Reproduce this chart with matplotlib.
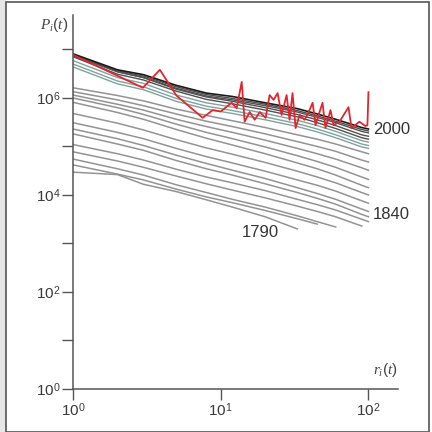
import numpy as np
import matplotlib
matplotlib.use("Agg")
import matplotlib.pyplot as plt
from matplotlib.patches import Rectangle

plt.rcParams['font.family'] = ['Liberation Sans', 'DejaVu Sans']
plt.rcParams['mathtext.fontset'] = 'custom'
plt.rcParams['mathtext.rm'] = 'Liberation Sans'
plt.rcParams['mathtext.it'] = 'Liberation Serif:italic'

# ---------------- data ----------------
ranks = [1, 2, 3, 5, 8, 12, 20, 33, 45, 60, 90, 100]
nan = float('nan')

# log10 of city population at each rank, per census year
logpop_1790 = [4.47, 4.42, 4.22, 4.07, 3.90, 3.75, 3.55, 3.30, nan, nan, nan, nan]
logpop_1800 = [4.62, 4.43, 4.31, 4.12, 3.96, 3.84, 3.68, 3.51, 3.40, nan, nan, nan]
logpop_1810 = [4.74, 4.54, 4.41, 4.21, 4.05, 3.91, 3.75, 3.57, 3.45, 3.34, nan, nan]
logpop_1820 = [4.89, 4.70, 4.57, 4.39, 4.23, 4.10, 3.94, 3.77, 3.66, 3.55, 3.36, nan]
logpop_1830 = [5.04, 4.85, 4.72, 4.53, 4.37, 4.25, 4.09, 3.91, 3.80, 3.69, 3.50, 3.45]
logpop_1840 = [5.26, 5.05, 4.92, 4.71, 4.54, 4.41, 4.23, 4.05, 3.93, 3.81, 3.60, 3.55]
logpop_1850 = [5.36, 5.16, 5.02, 4.82, 4.65, 4.51, 4.34, 4.15, 4.03, 3.91, 3.71, 3.66]
logpop_1860 = [5.49, 5.29, 5.16, 4.96, 4.79, 4.66, 4.49, 4.31, 4.20, 4.08, 3.88, 3.83]
logpop_1870 = [5.68, 5.48, 5.34, 5.14, 4.97, 4.84, 4.67, 4.49, 4.37, 4.25, 4.05, 4.00]
logpop_1880 = [5.91, 5.70, 5.56, 5.35, 5.17, 5.03, 4.85, 4.66, 4.54, 4.41, 4.20, 4.15]
logpop_1890 = [6.00, 5.80, 5.66, 5.46, 5.29, 5.16, 4.99, 4.81, 4.69, 4.57, 4.37, 4.32]
logpop_1900 = [6.06, 5.87, 5.75, 5.56, 5.41, 5.29, 5.13, 4.96, 4.85, 4.74, 4.56, 4.51]
logpop_1910 = [6.13, 5.96, 5.84, 5.67, 5.52, 5.41, 5.26, 5.10, 5.00, 4.90, 4.72, 4.68]
logpop_1920 = [6.21, 6.05, 5.94, 5.77, 5.64, 5.53, 5.39, 5.24, 5.15, 5.05, 4.89, 4.85]
logpop_1930 = [6.64, 6.29, 6.17, 5.93, 5.77, 5.68, 5.55, 5.41, 5.30, 5.18, 4.99, 4.96]
logpop_1940 = [6.70, 6.35, 6.23, 5.99, 5.83, 5.74, 5.61, 5.47, 5.36, 5.24, 5.05, 5.02]
logpop_1950 = [6.77, 6.42, 6.30, 6.06, 5.90, 5.81, 5.68, 5.54, 5.43, 5.31, 5.12, 5.09]
logpop_1960 = [6.85, 6.49, 6.37, 6.14, 5.97, 5.88, 5.75, 5.61, 5.49, 5.37, 5.18, 5.15]
logpop_1970 = [6.89, 6.54, 6.42, 6.18, 6.02, 5.93, 5.80, 5.66, 5.55, 5.43, 5.24, 5.21]
logpop_1980 = [6.87, 6.54, 6.42, 6.20, 6.04, 5.96, 5.84, 5.71, 5.60, 5.49, 5.31, 5.28]
logpop_1990 = [6.89, 6.56, 6.45, 6.23, 6.07, 5.99, 5.87, 5.74, 5.63, 5.52, 5.35, 5.32]
logpop_2000 = [6.91, 6.58, 6.48, 6.26, 6.10, 6.03, 5.90, 5.78, 5.67, 5.56, 5.39, 5.36]

years = [1790, 1800, 1810, 1820, 1830, 1840, 1850, 1860, 1870, 1880, 1890,
         1900, 1910, 1920, 1930, 1940, 1950, 1960, 1970, 1980, 1990, 2000]

# red series: log10 rank and log10 population
red_logrank = [0.0, 0.473, 0.588, 0.70, 0.878, 0.946, 1.00, 1.074, 1.108, 1.142, 1.162,
               1.196, 1.230, 1.264, 1.304, 1.331, 1.358, 1.385, 1.412, 1.446, 1.466,
               1.486, 1.507, 1.534, 1.568, 1.601, 1.622, 1.642, 1.669, 1.689, 1.709,
               1.743, 1.764, 1.804, 1.865, 1.885, 1.939, 1.980, 1.993, 2.0]
red_logpop = [6.89, 6.21, 6.58, 6.05, 5.59, 5.75, 5.72, 5.90, 5.79, 6.33, 5.51,
              5.71, 5.55, 5.71, 5.59, 6.06, 5.96, 6.10, 5.65, 6.06, 5.55,
              6.10, 5.38, 5.65, 5.55, 5.75, 5.90, 5.44, 5.71, 5.90, 5.38,
              5.75, 5.44, 5.51, 5.81, 5.38, 5.51, 5.42, 5.44, 6.12]

# ---------------- figure ----------------
fig = plt.figure(figsize=(4.32, 4.32), dpi=100)
fig.patch.set_facecolor('white')
# picture frame
fig.patches.append(Rectangle((0, 0), 6 / 432, 1, transform=fig.transFigure,
                             facecolor='#e6e6e6', edgecolor='none', zorder=0))
fig.patches.append(Rectangle((6 / 432, 0), 1 - 9 / 432, 1 - 2 / 432,
                             transform=fig.transFigure, facecolor='none',
                             edgecolor='#555555', linewidth=1.2, zorder=5))

ax = fig.add_axes([73 / 432, 1 - 389 / 432, (398 - 73) / 432, (389 - 15) / 432])
ax.set_xscale('log')
ax.set_yscale('log')

all_logpop = [logpop_1790, logpop_1800, logpop_1810, logpop_1820, logpop_1830,
              logpop_1840, logpop_1850, logpop_1860, logpop_1870, logpop_1880,
              logpop_1890, logpop_1900, logpop_1910, logpop_1920, logpop_1930,
              logpop_1940, logpop_1950, logpop_1960, logpop_1970, logpop_1980,
              logpop_1990, logpop_2000]

for yr, lp in zip(years, all_logpop):
    if yr == 2000:
        c, lw = '#1a1a1a', 1.2
    elif yr >= 1960:
        c, lw = '#505050', 1.0
    elif yr >= 1930:
        c, lw = '#80a29f', 1.0
    else:
        c, lw = '#939393', 1.1
    ax.plot(ranks, 10 ** np.array(lp), color=c, lw=lw, zorder=2)

ax.plot(10 ** np.array(red_logrank), 10 ** np.array(red_logpop),
        color='#e3262e', lw=1.3, zorder=3)

ax.set_xlim(1, 10 ** 2.2)
ax.set_ylim(1, 10 ** 7.71)

for s in ['top', 'right']:
    ax.spines[s].set_visible(False)
for s in ['left', 'bottom']:
    ax.spines[s].set_color('#555555')
    ax.spines[s].set_linewidth(1.1)

ax.minorticks_off()
ax.set_yticks([10 ** k for k in range(8)])
ax.set_yticklabels(['10$^{%d}$' % k if k % 2 == 0 else '' for k in range(8)])
ax.set_xticks([1, 10, 100])
ax.set_xticklabels(['10$^{0}$', '10$^{1}$', '10$^{2}$'])
ax.tick_params(axis='both', direction='out', length=8, width=1.0,
               color='#555555', labelcolor='#3a3a3a', labelsize=11, pad=1)

fig.text(54 / 432, 1 - 25 / 432, r'$P_i\mathit{(t)}$', ha='center', va='center',
         fontsize=11, color='#444444')
fig.text(385 / 432, 1 - 370 / 432, r'$r_i\mathit{(t)}$', ha='center', va='center',
         fontsize=11, color='#444444')

ax.text(10 ** 2.03, 10 ** 5.35, '2000', ha='left', va='center', fontsize=12, color='#333333')
ax.text(10 ** 2.03, 10 ** 3.6, '1840', ha='left', va='center', fontsize=12, color='#333333')
ax.text(10 ** 1.27, 10 ** 3.22, '1790', ha='center', va='center', fontsize=12, color='#333333')

fig.savefig('out.png', dpi=100)
